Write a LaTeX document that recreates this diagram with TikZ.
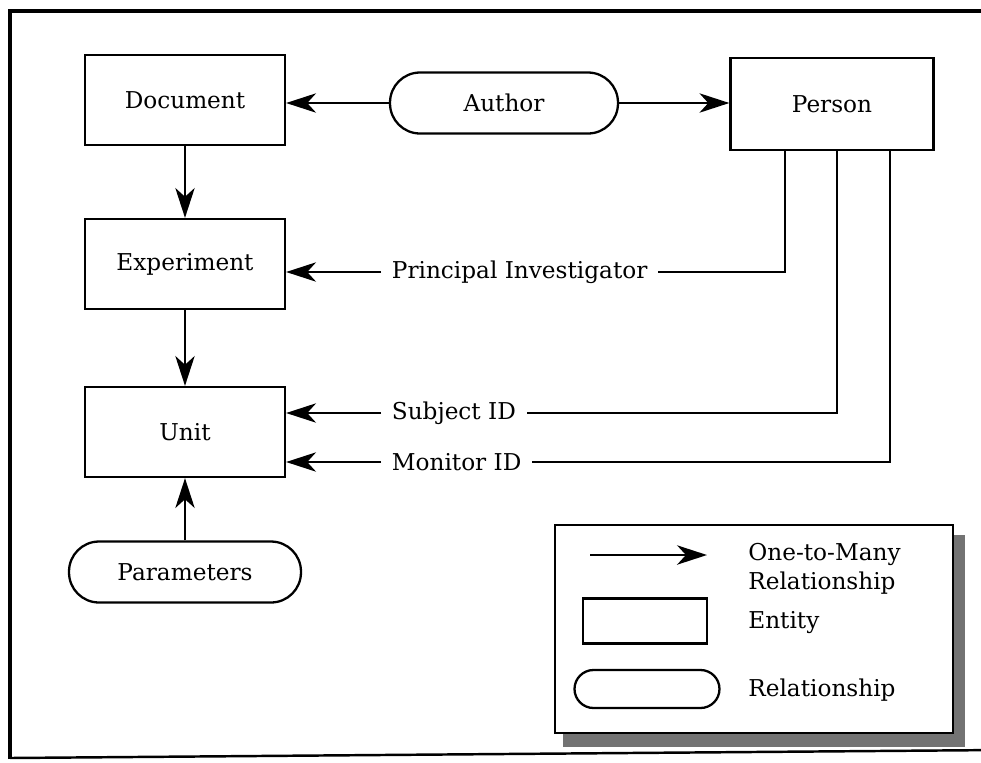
\documentclass[tikz,border=0pt]{standalone}
\usepackage{fontspec}
\setmainfont{DejaVu Serif}
\usetikzlibrary{arrows.meta}

\begin{document}
\begin{tikzpicture}[x=0.02cm, y=-0.02cm,
  entity/.style={shape=rectangle, draw=black, line width=1.3pt, minimum width=4cm, minimum height=1.8cm},
  relship/.style={shape=rectangle, rounded corners=0.6cm, draw=black, line width=1.3pt, minimum width=4.56cm, minimum height=1.22cm},
  arr/.style={-{Stealth[length=17pt, width=11pt, inset=5pt]}, line width=1.3pt, draw=black},
  link/.style={line width=1.3pt, draw=black},
  lbl/.style={inner sep=6pt, anchor=west},
  font=\fontsize{13.2}{16.5}\selectfont]
\useasboundingbox (0,0) rectangle (981,762);
% frame
\draw[line width=2.3pt] (10,759) -- (10,11) -- (1000,11);
\draw[line width=1.4pt] (10,758) -- (1000,750);
% entities and relationships
\node[entity] (doc) at (185,100) {Document};
\node[relship] (author) at (504,103) {Author};
\node[entity, minimum width=4.06cm, minimum height=1.84cm] (person) at (832,104) {Person};
\node[entity] (exp) at (185,264) {Experiment};
\node[entity] (unit) at (185,432) {Unit};
\node[relship, minimum width=4.64cm] (param) at (185,572) {Parameters};
% labelled links from Person
\node[lbl] (pi) at (381,272) {Principal Investigator};
\node[lbl] (subj) at (381,413) {Subject ID};
\node[lbl] (mon) at (381,462) {Monitor ID};
\coordinate (p1) at (785,150);
\coordinate (p2) at (837,150);
\coordinate (p3) at (890,150);
\draw[link] (p1) |- (pi.east);
\draw[link] (p2) |- (subj.east);
\draw[link] (p3) |- (mon.east);
\draw[arr] (pi.west) -- (pi.west -| exp.east);
\draw[arr] (subj.west) -- (subj.west -| unit.east);
\draw[arr] (mon.west) -- (mon.west -| unit.east);
\draw[arr] (author.west) -- (author.west -| doc.east);
\draw[arr] (author.east) -- (author.east -| person.west);
\draw[arr] (doc) -- (exp);
\draw[arr] (exp) -- (unit);
\draw[arr] (param) -- (unit);
% legend
\fill[black!55] (563,535) rectangle (965,747);
\node[draw=black, line width=1.3pt, fill=white, minimum width=7.96cm, minimum height=4.16cm] (legend) at (754,629) {};
\coordinate (la) at (590,555);
\coordinate (lb) at (707,555);
\draw[arr] (la) -- (lb);
\node[anchor=west, align=left, inner sep=0] (lone) at (748,569) {One-to-Many\\Relationship};
\node[entity, minimum width=2.48cm, minimum height=0.9cm] (lent) at (645,621) {};
\node[anchor=west, inner sep=0] (lentt) at (748,623) {Entity};
\node[relship, minimum width=2.9cm, minimum height=0.76cm, rounded corners=0.38cm] (lrel) at (647,689) {};
\node[anchor=west, inner sep=0] (lrelt) at (748,690) {Relationship};
\end{tikzpicture}
\end{document}
